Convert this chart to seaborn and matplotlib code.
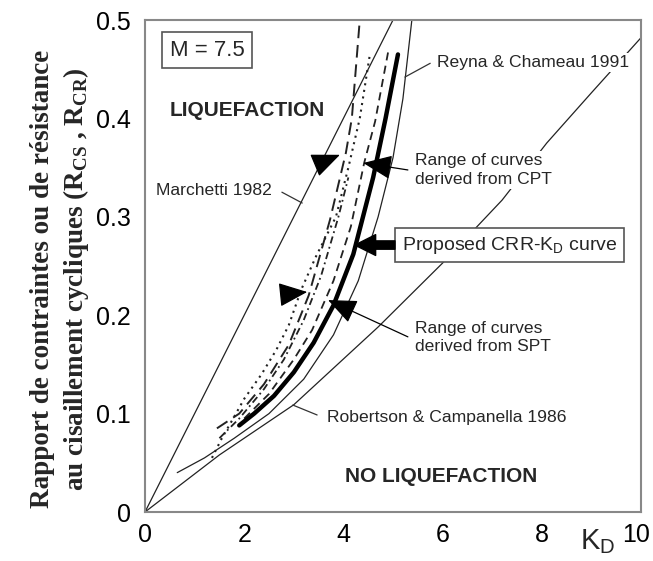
import matplotlib
matplotlib.use('Agg')
import matplotlib.pyplot as plt
import matplotlib.transforms as mtrans
import seaborn as sns

# ---------------- data ----------------
marchetti_kd = [0.0, 5.0]
marchetti_r = [0.0, 0.5]

robertson_kd = [0.0, 1.5, 3.0, 4.7, 6.0, 7.2, 8.1, 9.0, 10.0]
robertson_r = [0.0, 0.058, 0.109, 0.188, 0.253, 0.317, 0.375, 0.426, 0.482]

reyna_kd = [0.65, 1.2, 1.8, 2.5, 3.2, 3.8, 4.3, 4.7, 5.0, 5.2, 5.38]
reyna_r = [0.04, 0.055, 0.075, 0.10, 0.135, 0.18, 0.235, 0.30, 0.36, 0.42, 0.50]

proposed_kd = [1.9, 2.2, 2.6, 3.0, 3.4, 3.8, 4.2, 4.6, 4.85, 5.1]
proposed_r = [0.088, 0.100, 0.118, 0.142, 0.172, 0.21, 0.262, 0.34, 0.40, 0.465]

cpt_left_kd = [1.45, 1.9, 2.4, 2.9, 3.3, 3.73, 4.05, 4.17, 4.33]
cpt_left_r = [0.085, 0.10, 0.13, 0.17, 0.22, 0.297, 0.365, 0.40, 0.50]

cpt_right_kd = [2.0, 2.5, 3.0, 3.37, 3.8, 4.15, 4.42, 4.64, 4.9]
cpt_right_r = [0.095, 0.12, 0.155, 0.185, 0.235, 0.29, 0.355, 0.397, 0.467]

spt_left_kd = [1.35, 1.55, 1.8, 2.0, 2.35, 2.65, 2.9, 3.15, 3.45, 3.85, 4.1, 4.33, 4.54]
spt_left_r = [0.055, 0.075, 0.097, 0.115, 0.14, 0.165, 0.19, 0.226, 0.26, 0.30, 0.35, 0.40, 0.467]

spt_mid_kd = [1.5, 1.9, 2.4, 2.8, 3.2, 3.55, 3.9, 4.1]
spt_mid_r = [0.075, 0.095, 0.125, 0.155, 0.195, 0.24, 0.30, 0.34]

x_ticks = [0, 2, 4, 6, 8, 10]
y_ticks = [0, 0.1, 0.2, 0.3, 0.4, 0.5]
y_tick_labels = ['0', '0.1', '0.2', '0.3', '0.4', '0.5']

# ---------------- style ----------------
sns.set_style('white')
plt.rcParams['font.family'] = ['Liberation Sans', 'DejaVu Sans']
plt.rcParams['mathtext.fontset'] = 'custom'
plt.rcParams['mathtext.rm'] = 'Liberation Serif:bold'
plt.rcParams['mathtext.bf'] = 'Liberation Serif:bold'
plt.rcParams['mathtext.sf'] = 'Liberation Sans'

fig = plt.figure(figsize=(6.53, 5.61), dpi=100)
ax = fig.add_axes([145 / 653, 49 / 561, 496 / 653, 492 / 561])

LC = '#222222'


def draw(kd, r, **kw):
    sns.lineplot(x=kd, y=r, sort=False, estimator=None, ax=ax, **kw)


draw(marchetti_kd, marchetti_r, color=LC, lw=0.9)
draw(robertson_kd, robertson_r, color=LC, lw=0.9)
draw(reyna_kd, reyna_r, color=LC, lw=0.9)
draw(cpt_left_kd, cpt_left_r, color=LC, lw=1.4, linestyle=(0, (6.5, 3.5)))
draw(cpt_right_kd, cpt_right_r, color=LC, lw=1.3, linestyle=(0, (4.5, 3)))
draw(spt_left_kd, spt_left_r, color=LC, lw=1.5, linestyle=(0, (1, 2.2)))
draw(spt_mid_kd, spt_mid_r, color=LC, lw=1.3, linestyle=(0, (4, 2, 1, 2)))
draw(proposed_kd, proposed_r, color='black', lw=3.2)

ax.set_xlim(0, 10)
ax.set_ylim(0, 0.5)
ax.set_xticks(x_ticks)
ax.set_xticklabels([str(t) for t in x_ticks])
ax.set_yticks(y_ticks)
ax.set_yticklabels(y_tick_labels)
ax.tick_params(direction='in', length=7, width=1, color='#555555',
               labelsize=18, labelcolor='black')
ax.tick_params(axis='y', pad=10)
ax.tick_params(axis='x', pad=8)
for s in ax.spines.values():
    s.set_color('#888888')
    s.set_linewidth(1.5)
ax.set_xlabel('')
ax.set_ylabel('')

# keep the last x tick label ("10") inside the canvas
last = ax.get_xticklabels()[-1]
last.set_transform(last.get_transform() +
                   mtrans.ScaledTranslation(-5 / 100, 0, fig.dpi_scale_trans))

# ---------------- texts ----------------
white = dict(facecolor='white', edgecolor='none', pad=1.5)
ax.text(1.25, 0.4695, 'M = 7.5', fontsize=16, ha='center', va='center',
        bbox=dict(boxstyle='square,pad=0.35', facecolor='white',
                  edgecolor='#555555', lw=1.2), zorder=5)
ax.text(2.06, 0.4085, 'LIQUEFACTION', fontsize=15, fontweight='bold',
        ha='center', va='center', zorder=5)
ax.text(5.97, 0.0356, 'NO LIQUEFACTION', fontsize=15, fontweight='bold',
        ha='center', va='center', zorder=5)
ax.text(0.22, 0.327, 'Marchetti 1982', fontsize=12.6, ha='left', va='center',
        bbox=white, zorder=5)
ax.text(5.89, 0.457, 'Reyna & Chameau 1991', fontsize=12.6, ha='left',
        va='center', bbox=white, zorder=5)
ax.text(5.44, 0.3476, 'Range of curves\nderived from CPT', fontsize=12.6,
        ha='left', va='center', linespacing=1.3, bbox=white, zorder=5)
ax.text(5.44, 0.1773, 'Range of curves\nderived from SPT', fontsize=12.6,
        ha='left', va='center', linespacing=1.3, bbox=white, zorder=5)
ax.text(3.67, 0.0965, 'Robertson & Campanella 1986', fontsize=12.6,
        ha='left', va='center', bbox=white, zorder=5)
ax.text(5.18, 0.2713, r'Proposed CRR-K$_\mathsf{D}$ curve', fontsize=14,
        ha='left', va='center', zorder=6,
        bbox=dict(boxstyle='square,pad=0.35', facecolor='white',
                  edgecolor='#555555', lw=1.2))

# leader lines
leader = dict(color='#333333', lw=0.9)
ax.plot([2.76, 3.17], [0.325, 0.314], **leader)
ax.plot([5.75, 5.24], [0.456, 0.442], **leader)
ax.plot([2.98, 3.47], [0.1087, 0.0986], **leader)

head = dict(arrowstyle='-|>,head_length=0.9,head_width=0.38',
            mutation_scale=20, color='black', lw=0.9, shrinkA=0, shrinkB=0)
# CPT range arrows
ax.annotate('', xy=(3.93, 0.363), xytext=(3.55, 0.355), arrowprops=head, zorder=7)
ax.annotate('', xy=(4.40, 0.3547), xytext=(5.30, 0.3476), arrowprops=head, zorder=7)
# SPT range arrows
ax.annotate('', xy=(3.27, 0.2236), xytext=(2.86, 0.2215), arrowprops=head, zorder=7)
ax.annotate('', xy=(3.69, 0.2154), xytext=(5.30, 0.178), arrowprops=head, zorder=7)
# proposed curve arrow
ax.annotate('', xy=(4.23, 0.2713), xytext=(5.04, 0.2713), zorder=7,
            arrowprops=dict(arrowstyle='simple,head_length=0.75,head_width=0.75,tail_width=0.3',
                            mutation_scale=20, color='black', shrinkA=0, shrinkB=0))

# axis labels
fig.text(598 / 653, 1 - 542 / 561, r'K$_\mathsf{D}$', fontsize=21,
         ha='center', va='center')
fig.text(60.5 / 653, 1 - 279 / 561,
         'Rapport de contraintes ou de résistance\n'
         r'au cisaillement cycliques (R$_\mathrm{CS}$ , R$_\mathrm{CR}$)',
         family=['Liberation Serif', 'DejaVu Serif'], fontweight='bold',
         fontsize=19.5, rotation=90, ha='center', va='center',
         multialignment='center', linespacing=1.3)

fig.savefig('out.png', dpi=100)
